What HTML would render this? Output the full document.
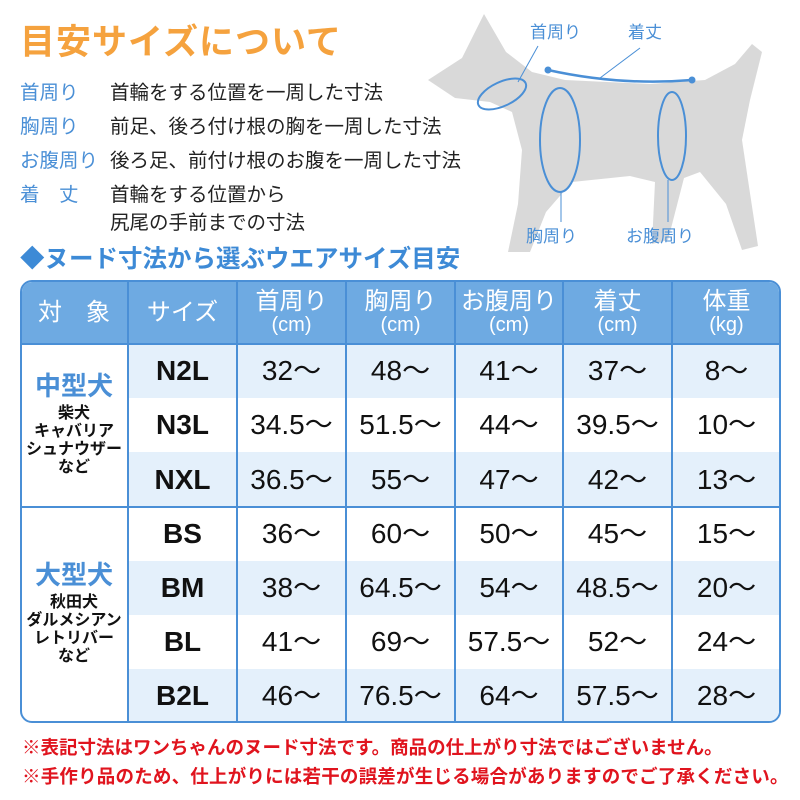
<!DOCTYPE html>
<html><head><meta charset="utf-8"><style>
*{margin:0;padding:0;box-sizing:border-box}
body{width:800px;height:800px;background:#fff;position:relative;overflow:hidden;font-family:"Liberation Sans","Noto Sans CJK JP",sans-serif}
.a{position:absolute;white-space:nowrap}
.title{left:20px;top:14px;font-size:35px;font-weight:bold;color:#f5a23e;letter-spacing:1px}
.lb{left:20px;font-size:19.5px;color:#4a8fd6}
.ds{left:110px;font-size:19.5px;color:#222}
.sub{left:20px;top:240px;font-size:24.5px;font-weight:bold;color:#3d8ad6}
.red{left:22px;font-size:18.5px;font-weight:bold;color:#e0141e}
.cell{position:absolute;display:flex;flex-direction:column;align-items:center;justify-content:center;text-align:center;color:#111}
</style></head><body>
<div class="a title">目安サイズについて</div>
<div class="a lb" style="top:76px">首周り</div><div class="a ds" style="top:76px">首輪をする位置を一周した寸法</div>
<div class="a lb" style="top:110px">胸周り</div><div class="a ds" style="top:110px">前足、後ろ付け根の胸を一周した寸法</div>
<div class="a lb" style="top:144px">お腹周り</div><div class="a ds" style="top:144px">後ろ足、前付け根のお腹を一周した寸法</div>
<div class="a lb" style="top:178px">着　丈</div><div class="a ds" style="top:178px">首輪をする位置から</div>
<div class="a ds" style="top:206px">尻尾の手前までの寸法</div>
<div class="a sub">◆ヌード寸法から選ぶウエアサイズ目安</div>

<svg class="a" style="left:0;top:0" width="800" height="280">
<path d="M428,80 L462,58 L484,14 L506,52 L532,72 L565,80 L650,84 L705,80 L735,64 L752,44 L762,52 L750,100 L742,140 L748,180 L758,246 L742,250 L726,204 L700,172 L684,178 L668,240 L652,244 L655,182 L630,176 L572,182 L546,212 L530,252 L508,252 L518,204 L522,150 L512,112 L490,102 L455,98 Z" fill="#d9d9d9"/>
<ellipse cx="502" cy="94" rx="26" ry="12" transform="rotate(-25 502 94)" fill="none" stroke="#4a8fd6" stroke-width="2"/>
<ellipse cx="560" cy="140" rx="20" ry="52" fill="none" stroke="#4a8fd6" stroke-width="2"/>
<ellipse cx="672" cy="136" rx="14" ry="44" fill="none" stroke="#4a8fd6" stroke-width="2"/>
<path d="M548,70 Q620,86 692,80" fill="none" stroke="#4a8fd6" stroke-width="2.5"/>
<circle cx="548" cy="70" r="3.5" fill="#4a8fd6"/><circle cx="692" cy="80" r="3.5" fill="#4a8fd6"/>
<line x1="538" y1="46" x2="518" y2="82" stroke="#4a8fd6"/>
<line x1="640" y1="48" x2="600" y2="78" stroke="#4a8fd6"/>
<line x1="561" y1="192" x2="561" y2="222" stroke="#4a8fd6"/>
<line x1="668" y1="180" x2="668" y2="222" stroke="#4a8fd6"/>
<text x="530" y="38" font-size="17" fill="#4a8fd6" font-family="Liberation Sans, Noto Sans CJK JP, sans-serif">首周り</text>
<text x="628" y="38" font-size="17" fill="#4a8fd6" font-family="Liberation Sans, Noto Sans CJK JP, sans-serif">着丈</text>
<text x="526" y="242" font-size="17" fill="#4a8fd6" font-family="Liberation Sans, Noto Sans CJK JP, sans-serif">胸周り</text>
<text x="626" y="242" font-size="17" fill="#4a8fd6" font-family="Liberation Sans, Noto Sans CJK JP, sans-serif">お腹周り</text>
</svg>

<div class="a" style="left:20px;top:280px;width:761px;height:443px;border:2px solid #4a8fd6;border-radius:12px;overflow:hidden;background:#fff">
<div class="a" style="left:0;top:0;width:761px;height:63px;background:#6eaae2"></div>
<div class="a" style="left:106px;top:62px;width:655px;height:54px;background:#e4f0fb"></div>
<div class="a" style="left:106px;top:170px;width:655px;height:55px;background:#e4f0fb"></div>
<div class="a" style="left:106px;top:279px;width:655px;height:54px;background:#e4f0fb"></div>
<div class="a" style="left:106px;top:387px;width:655px;height:54px;background:#e4f0fb"></div>
</div>
<svg class="a" style="left:0;top:0" width="800" height="800">
<g stroke="#4a8fd6" stroke-width="2">
<line x1="128" y1="281" x2="128" y2="722"/><line x1="237" y1="281" x2="237" y2="722"/>
<line x1="346" y1="281" x2="346" y2="722"/><line x1="455" y1="281" x2="455" y2="722"/>
<line x1="563" y1="281" x2="563" y2="722"/><line x1="672" y1="281" x2="672" y2="722"/>
<line x1="21" y1="507" x2="780" y2="507"/><line x1="21" y1="344" x2="780" y2="344"/>
</g></svg>
<div id="t"></div>
<script>
const xs=[20,128,237,346,455,563,672,781],ys=[281,344,398,452,507,561,615,669,723];
let h='';
const hd=[['対　象',''],['サイズ',''],['首周り','(cm)'],['胸周り','(cm)'],['お腹周り','(cm)'],['着丈','(cm)'],['体重','(kg)']];
hd.forEach((t,i)=>{h+=`<div class="cell" style="left:${xs[i]}px;top:281px;width:${xs[i+1]-xs[i]}px;height:63px;color:#fff;font-size:24px;line-height:24px"><div>${t[0]}</div>${t[1]?`<div style="font-size:20px;line-height:22px">${t[1]}</div>`:''}</div>`});
const d=[['N2L','32','48','41','37','8'],['N3L','34.5','51.5','44','39.5','10'],['NXL','36.5','55','47','42','13'],['BS','36','60','50','45','15'],['BM','38','64.5','54','48.5','20'],['BL','41','69','57.5','52','24'],['B2L','46','76.5','64','57.5','28']];
d.forEach((r,j)=>{r.forEach((t,i)=>{const c=i+1;h+=`<div class="cell" style="left:${xs[c]}px;top:${ys[j+1]}px;width:${xs[c+1]-xs[c]}px;height:${ys[j+2]-ys[j+1]}px;font-size:28px;line-height:30px;${i==0?'font-weight:bold':''}">${i==0?t:t+'〜'}</div>`})});
h+=`<div class="cell" style="left:20px;top:352px;width:108px;height:140px;font-size:16px;line-height:18px"><b style="color:#4a8fd6;font-size:26px;line-height:38px">中型犬</b><b>柴犬<br>キャバリア<br>シュナウザー<br>など</b></div>`;
h+=`<div class="cell" style="left:20px;top:536px;width:108px;height:150px;font-size:16px;line-height:18px"><b style="color:#4a8fd6;font-size:26px;line-height:38px">大型犬</b><b>秋田犬<br>ダルメシアン<br>レトリバー<br>など</b></div>`;
document.getElementById('t').innerHTML=h;
</script>
<div class="a red" style="top:734px">※表記寸法はワンちゃんのヌード寸法です。商品の仕上がり寸法ではございません。</div>
<div class="a red" style="top:763px;letter-spacing:0.2px">※手作り品のため、仕上がりには若干の誤差が生じる場合がありますのでご了承ください。</div>
</body></html>
